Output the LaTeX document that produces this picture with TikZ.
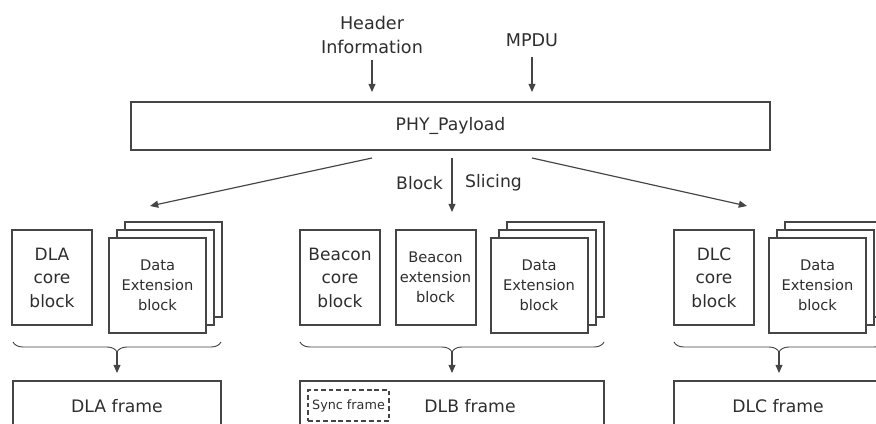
\documentclass[tikz,border=0pt]{standalone}
\usepackage{fontspec}
\setmainfont{DejaVu Sans}
\usetikzlibrary{arrows.meta}
\usetikzlibrary{decorations.pathreplacing}

\definecolor{linegray}{HTML}{454545}
\definecolor{textgray}{HTML}{2E2E2E}

\tikzset{
  blockbox/.style={draw=linegray,line width=1.7pt,fill=white,inner sep=0pt,
    minimum width=2.4cm,minimum height=2.85cm,align=center,text=textgray,
    font=\fontsize{14.5}{20}\selectfont},
  extbox/.style={blockbox,minimum width=2.91cm,font=\fontsize{12.5}{17}\selectfont},
  label/.style={text=textgray,inner sep=0pt,align=center,font=\fontsize{14.7}{20.5}\selectfont},
  flow/.style={draw=linegray,line width=1pt,-{Triangle[length=7pt,width=6pt]}},
  groupbrace/.style={draw=linegray,line width=0.8pt,decorate,
    decoration={brace,mirror,amplitude=0.3cm}},
  framebox/.style={draw=linegray,line width=1.5pt},
}

\begin{document}
\begin{tikzpicture}[x=0.03cm,y=-0.03cm]
                \clip (0,0) rectangle (876,424);
                % inputs
                \node[label,font=\fontsize{15}{20.5}\selectfont] (header) at (372,35) {Header\\Information};
                \node[label,font=\fontsize{15}{20.5}\selectfont] (mpdu) at (532,40) {MPDU};
                \node[draw=linegray,line width=1.7pt,minimum width=19.17cm,minimum height=1.44cm,label] (phy) at (450.5,126) {PHY\_Payload};
                \draw[flow] (372,60) -- ([yshift=0.27cm]header.south |- phy.north);
                \draw[flow] (532,57) -- ([yshift=0.27cm]mpdu.south |- phy.north);
                % slicing
                \coordinate (cutA) at (372,158);
                \coordinate (cutB) at (452,158);
                \coordinate (cutC) at (532,158);
                \coordinate (toA) at (150,206);
                \coordinate (toB) at (452,212);
                \coordinate (toC) at (747,206);
                \draw[flow] (cutA) -- (toA);
                \draw[flow] (cutB) -- (toB);
                \draw[flow] (cutC) -- (toC);
                \node[label,anchor=east] (blk) at (443,183) {Block};
                \node[label,anchor=west] (slc) at (465,183) {Slicing};
                % DLA
                \node[blockbox] (dlacore) at (52,277.5) {DLA\\core\\block};
                \node[extbox] (dlaext3) at (173.5,269.5) {};
                \node[extbox] (dlaext2) at (165.5,277.5) {};
                \node[extbox] (dlaext) at (157.5,285.5) {Data\\Extension\\block};
                % DLB
                \node[blockbox] (bcncore) at (340,277.5) {Beacon\\core\\block};
                \node[blockbox,font=\fontsize{12.5}{17}\selectfont] (bcnext) at (435.5,277.5) {Beacon\\extension\\block};
                \node[extbox] (dlbext3) at (555,269.5) {};
                \node[extbox] (dlbext2) at (547,277.5) {};
                \node[extbox] (dlbext) at (539,285.5) {Data\\Extension\\block};
                % DLC
                \node[blockbox] (dlccore) at (714,277.5) {DLC\\core\\block};
                \node[extbox] (dlcext3) at (833.5,269.5) {};
                \node[extbox] (dlcext2) at (825.5,277.5) {};
                \node[extbox] (dlcext) at (817.5,285.5) {Data\\Extension\\block};
                % braces
                \draw[groupbrace] (13,342) -- (221,342);
                \draw[groupbrace] (300,342) -- (604,342);
                \draw[groupbrace] (674,342) -- (884,342);
                \coordinate (tipA) at (117,352);
                \coordinate (tipB) at (452,352);
                \coordinate (tipC) at (779,352);
                \coordinate (inA) at (117,373);
                \coordinate (inB) at (452,373);
                \coordinate (inC) at (779,373);
                \draw[flow] (tipA) -- (inA);
                \draw[flow] (tipB) -- (inB);
                \draw[flow] (tipC) -- (inC);
                % frames
                \draw[framebox] (13,381) rectangle (221,440);
                \draw[framebox] (300,381) rectangle (604,440);
                \draw[framebox] (674,381) rectangle (900,440);
                \node[label] (dlaframe) at (117,406) {DLA frame};
                \node[label] (dlbframe) at (470,406) {DLB frame};
                \node[label] (dlcframe) at (778,406) {DLC frame};
                \node[draw=linegray,line width=0.9pt,dash pattern=on 4pt off 2.5pt,
                      minimum width=2.43cm,minimum height=0.93cm,inner sep=0pt,
                      text=textgray,font=\fontsize{10.9}{13}\selectfont] (sync) at (348.5,405.5) {Sync frame};
            \end{tikzpicture}
\end{document}
